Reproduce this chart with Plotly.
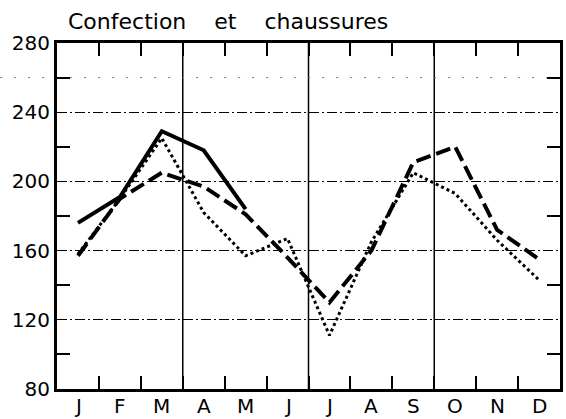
import plotly.graph_objects as go

months = ["J", "F", "M", "A", "M", "J", "J", "A", "S", "O", "N", "D"]
month_pos = list(range(1, 13))
solid_vals = [176, 191, 229, 218, 184, None, None, None, None, None, None, None]
dashed_vals = [157, 190, 205, 197, 181, 156, 130, 160, 211, 220, 172, 155]
dotted_vals = [158, 190, 225, 182, 157, 167, 111, 165, 205, 193, 166, 143]
y_ticks = [80, 120, 160, 200, 240, 280]
y_minor = [100, 140, 180, 220, 260]
x_minor = [1.5, 2.5, 3.5, 4.5, 5.5, 6.5, 7.5, 8.5, 9.5, 10.5, 11.5]
quarter_lines = [3.5, 6.5, 9.5]
sp = "\u00a0" * 4
title_text = "Confection" + sp + "et" + sp + "chaussures"

FONT = "DejaVu Sans"

fig = go.Figure()
fig.add_trace(go.Scatter(x=month_pos, y=dotted_vals, mode="lines",
                         line=dict(color="black", width=3, dash="3px,3px"),
                         showlegend=False))
fig.add_trace(go.Scatter(x=month_pos, y=dashed_vals, mode="lines",
                         line=dict(color="black", width=4, dash="15px,6px"),
                         showlegend=False))
fig.add_trace(go.Scatter(x=month_pos, y=solid_vals, mode="lines",
                         line=dict(color="black", width=4),
                         showlegend=False))

for q in quarter_lines:
    fig.add_shape(type="line", xref="x", yref="paper", x0=q, x1=q, y0=0, y1=1,
                  line=dict(color="black", width=1.5), layer="below")

fig.add_shape(type="line", xref="paper", yref="y", x0=-0.113, x1=1, y0=260, y1=260,
              line=dict(color="#777", width=1, dash="2px,12px"), layer="below")

fig.add_annotation(text=title_text, xref="paper", yref="paper", x=(66 - 57) / 503, y=1,
                   xanchor="left", yanchor="bottom", showarrow=False, yshift=7,
                   font=dict(family=FONT, size=22, color="black"))

for xpos, label in zip(month_pos, months):
    fig.add_annotation(text=label, xref="x", yref="paper", x=xpos, y=0,
                       xanchor="center", yanchor="top", showarrow=False, yshift=-3,
                       font=dict(family=FONT, size=20, color="black"))

fig.update_xaxes(range=[0.5, 12.5], tickvals=month_pos, showticklabels=False,
                 ticks="", showgrid=False, zeroline=False, automargin=False,
                 showline=True, linewidth=3, linecolor="black", mirror="all",
                 minor=dict(tickvals=x_minor, ticks="inside", ticklen=13,
                            tickwidth=1.5, tickcolor="black", showgrid=False))
fig.update_yaxes(range=[80, 280], tickvals=y_ticks, ticks="", automargin=False,
                 showgrid=True, gridcolor="black", gridwidth=1, griddash="10px,3px,2px,3px",
                 zeroline=False, showline=True, linewidth=3, linecolor="black", mirror="all",
                 tickfont=dict(family=FONT, size=20, color="black"),
                 minor=dict(tickvals=y_minor, ticks="inside", ticklen=13,
                            tickwidth=1.5, tickcolor="black", showgrid=False))

fig.update_layout(width=566, height=419, margin=dict(l=57, r=6, t=43, b=30),
                  plot_bgcolor="white", paper_bgcolor="white",
                  font=dict(family=FONT, color="black"))

fig.write_html("out.html", config={"displayModeBar": False},
               post_script="document.body.style.margin='0';")
